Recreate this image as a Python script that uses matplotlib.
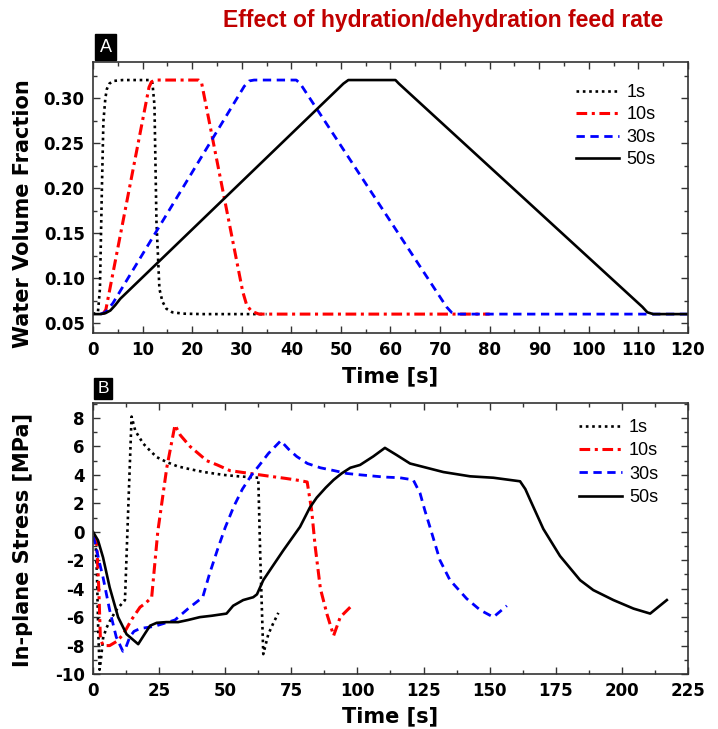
import matplotlib
matplotlib.use('Agg')
import matplotlib.pyplot as plt
from matplotlib.ticker import MultipleLocator

plt.rcParams['axes.unicode_minus'] = False

# Panel A: water volume fraction vs time
t1a = [0, 1.0, 1.4, 1.8, 2.1, 2.5, 2.8, 3.3, 4.1, 6.0, 11.6, 12.0, 12.4, 12.8, 13.4, 14.0, 14.8, 16.0, 18.2, 22.0, 35.0]
w1a = [0.06, 0.062, 0.088, 0.20, 0.274, 0.30, 0.31, 0.316, 0.319, 0.32, 0.32, 0.316, 0.292, 0.163, 0.088, 0.074, 0.066, 0.062, 0.0605, 0.06, 0.06]

t10a = [2.0, 2.6, 11.3, 11.8, 12.5, 21.3, 21.9, 30.2, 31.0, 32.0, 33.5, 80.0]
w10a = [0.06, 0.065, 0.312, 0.318, 0.32, 0.32, 0.317, 0.085, 0.07, 0.063, 0.06, 0.06]

t30a = [1.5, 2.5, 4.0, 30.5, 31.5, 32.5, 41.0, 41.8, 71.3, 72.3, 73.5, 120.0]
w30a = [0.06, 0.062, 0.072, 0.313, 0.319, 0.32, 0.32, 0.316, 0.068, 0.062, 0.06, 0.06]

t50a = [0, 1.5, 2.5, 3.5, 4.5, 5.5, 50.5, 51.5, 61.0, 61.7, 110.8, 111.8, 113.0, 120.0]
w50a = [0.06, 0.06, 0.061, 0.064, 0.07, 0.077, 0.316, 0.32, 0.32, 0.316, 0.068, 0.062, 0.06, 0.06]

# Panel B: in-plane stress vs time
t1b = [0, 1.0, 1.5, 2.0, 2.5, 3.0, 3.8, 5.0, 6.3, 8.8, 10.7, 12.1, 13.4, 14.6, 16.0, 19.0, 21.6, 24.1,
       27.9, 32.0, 36.7, 42.0, 49.3, 55.0, 62.5, 63.3, 64.4, 66.3, 68.0, 70.1]
s1b = [-0.3, -0.8, -3.0, -7.0, -9.7, -9.0, -7.5, -6.8, -6.3, -5.5, -5.1, -4.8, 2.0, 8.1, 7.1, 6.2, 5.7, 5.25,
       4.9, 4.6, 4.4, 4.2, 4.0, 3.9, 3.8, -2.0, -8.6, -7.2, -6.5, -5.7]

t10b = [0, 1.4, 2.2, 2.8, 3.8, 6.3, 9.0, 11.5, 14.5, 17.8, 20.0, 22.2, 24.5, 27.9, 31.0, 33.0, 36.7,
        40.5, 43.0, 47.0, 51.8, 59.4, 67.0, 73.0, 78.3, 81.0, 82.7, 84.0, 86.0, 88.5, 91.0, 93.5, 97.8]
s10b = [-0.3, -0.8, -4.0, -7.5, -8.0, -8.0, -7.7, -7.2, -6.2, -5.3, -5.0, -4.6, 0.0, 4.5, 7.5, 6.8, 6.0,
        5.4, 5.0, 4.7, 4.3, 4.1, 3.9, 3.75, 3.6, 3.5, 1.5, -1.0, -4.0, -5.8, -7.3, -6.0, -5.2]

t30b = [0, 0.8, 2.5, 3.8, 6.3, 8.8, 11.3, 12.5, 13.9, 15.5, 17.8, 21.5, 24.1, 31.0, 36.0, 41.5, 44.0,
        47.0, 50.0, 53.3, 56.5, 60.0, 63.0, 66.3, 71.0, 74.0, 77.0, 81.1, 86.0, 91.2, 96.0, 101.3, 110.0,
        116.0, 121.1, 123.7, 125.5, 127.4, 131.2, 135.0, 141.3, 146.4, 151.4, 156.5]
s30b = [-0.3, -0.8, -2.2, -3.2, -5.5, -7.4, -8.4, -8.1, -7.4, -7.0, -6.8, -6.7, -6.6, -6.2, -5.4, -4.6, -3.0,
        -1.3, 0.3, 1.8, 3.0, 4.0, 4.7, 5.5, 6.4, 5.8, 5.3, 4.8, 4.5, 4.3, 4.1, 4.0, 3.85,
        3.8, 3.65, 2.7, 1.5, 0.35, -2.0, -3.4, -4.7, -5.5, -6.0, -5.2]

t50b = [0, 1.9, 3.8, 6.3, 9.5, 12.7, 17.1, 19.5, 21.6, 24.1, 27.7, 32.2, 36.0, 40.4, 45.0, 50.5, 53.0,
        56.8, 60.6, 62.0, 64.4, 68.0, 72.0, 78.3, 82.0, 84.6, 88.0, 91.0, 94.0, 97.3, 101.0, 106.0, 110.4,
        114.8, 119.9, 126.2, 132.5, 142.6, 151.4, 161.5, 163.5, 165.3, 170.3, 176.6, 184.2, 189.2, 196.8,
        204.4, 210.7, 217.0]
s50b = [0.0, -0.6, -1.8, -3.9, -6.0, -7.2, -7.9, -7.2, -6.6, -6.4, -6.35, -6.35, -6.2, -6.0, -5.9, -5.75, -5.2,
        -4.8, -4.6, -4.4, -3.4, -2.4, -1.3, 0.35, 1.7, 2.4, 3.1, 3.65, 4.1, 4.5, 4.7, 5.3, 5.9,
        5.4, 4.8, 4.5, 4.2, 3.9, 3.8, 3.55, 3.0, 2.25, 0.2, -1.7, -3.4, -4.1, -4.8,
        -5.4, -5.75, -4.8]

labels = ['1s', '10s', '30s', '50s']
colors = ['black', '#ff0000', '#0000ff', 'black']
styles = [dict(lw=1.9, dashes=(1, 1.4)),
          dict(lw=2.2, dashes=(3.5, 1.5, 1, 1.5)),
          dict(lw=2.0, dashes=(3, 2)),
          dict(lw=1.9, linestyle='-')]

fig = plt.figure(figsize=(7.18, 7.29), dpi=100)
axA = fig.add_axes([0.1295, 0.5432, 0.8287, 0.3717])
axB = fig.add_axes([0.1295, 0.0754, 0.8287, 0.3717])


def style_axes(ax):
    for sp in ax.spines.values():
        sp.set_linewidth(1.2)
        sp.set_color('#333333')
    ax.tick_params(which='both', direction='in', top=True, right=True, width=1, color='#333333')
    ax.tick_params(which='major', length=5, pad=6, labelsize=12)
    ax.tick_params(which='minor', length=3)
    for lab in ax.get_xticklabels() + ax.get_yticklabels():
        lab.set_fontweight('bold')


series_a = [(t1a, w1a), (t10a, w10a), (t30a, w30a), (t50a, w50a)]
for (t, w), lab, c, st in zip(series_a, labels, colors, styles):
    axA.plot(t, w, color=c, label=lab, **st)
axA.set_xlim(0, 120)
axA.set_ylim(0.039, 0.34)
axA.xaxis.set_major_locator(MultipleLocator(10))
axA.xaxis.set_minor_locator(MultipleLocator(5))
axA.yaxis.set_major_locator(MultipleLocator(0.05))
axA.yaxis.set_minor_locator(MultipleLocator(0.025))
axA.yaxis.set_major_formatter(matplotlib.ticker.FormatStrFormatter('%.2f'))
style_axes(axA)
axA.set_xlabel('Time [s]', fontsize=15, fontweight='bold')
axA.set_ylabel('Water Volume Fraction', fontsize=15, fontweight='bold')
axA.xaxis.set_label_coords(0.5, -0.122)
axA.yaxis.set_label_coords(-0.101, 0.441)

series_b = [(t1b, s1b), (t10b, s10b), (t30b, s30b), (t50b, s50b)]
for (t, s), lab, c, st in zip(series_b, labels, colors, styles):
    axB.plot(t, s, color=c, label=lab, **st)
axB.set_xlim(0, 225)
axB.set_ylim(-10, 9.05)
axB.xaxis.set_major_locator(MultipleLocator(25))
axB.xaxis.set_minor_locator(MultipleLocator(12.5))
axB.yaxis.set_major_locator(MultipleLocator(2))
axB.yaxis.set_minor_locator(MultipleLocator(1))
style_axes(axB)
axB.set_xlabel('Time [s]', fontsize=15, fontweight='bold')
axB.set_ylabel('In-plane Stress [MPa]', fontsize=15, fontweight='bold')
axB.xaxis.set_label_coords(0.5, -0.118)
axB.yaxis.set_label_coords(-0.101, 0.496)

legend_font = {'family': 'Liberation Sans', 'size': 13}
axA.legend(loc='upper right', bbox_to_anchor=(0.945, 0.919), frameon=False, prop=legend_font,
           borderaxespad=0, borderpad=0, labelspacing=0.3, handlelength=2.4, handletextpad=0.4)
axB.legend(loc='upper right', bbox_to_anchor=(0.950, 0.941), frameon=False, prop=legend_font,
           borderaxespad=0, borderpad=0, labelspacing=0.35, handlelength=2.4, handletextpad=0.4)

fig.text(443 / 718, 1 - 20 / 729, 'Effect of hydration/dehydration feed rate', ha='center', va='center',
         fontsize=16.5, fontweight='bold', color='#c00000', family='Liberation Sans')
fig.text(105.5 / 718, 1 - 47 / 729, 'A', ha='center', va='center', color='white', fontsize=13,
         family='Liberation Sans', bbox=dict(boxstyle='square,pad=0.25', facecolor='black', edgecolor='black'))
fig.text(103 / 718, 1 - 388.5 / 729, 'B', ha='center', va='center', color='white', fontsize=12.5,
         family='Liberation Sans', bbox=dict(boxstyle='square,pad=0.2', facecolor='black', edgecolor='black'))

fig.savefig('out.png', dpi=100)
